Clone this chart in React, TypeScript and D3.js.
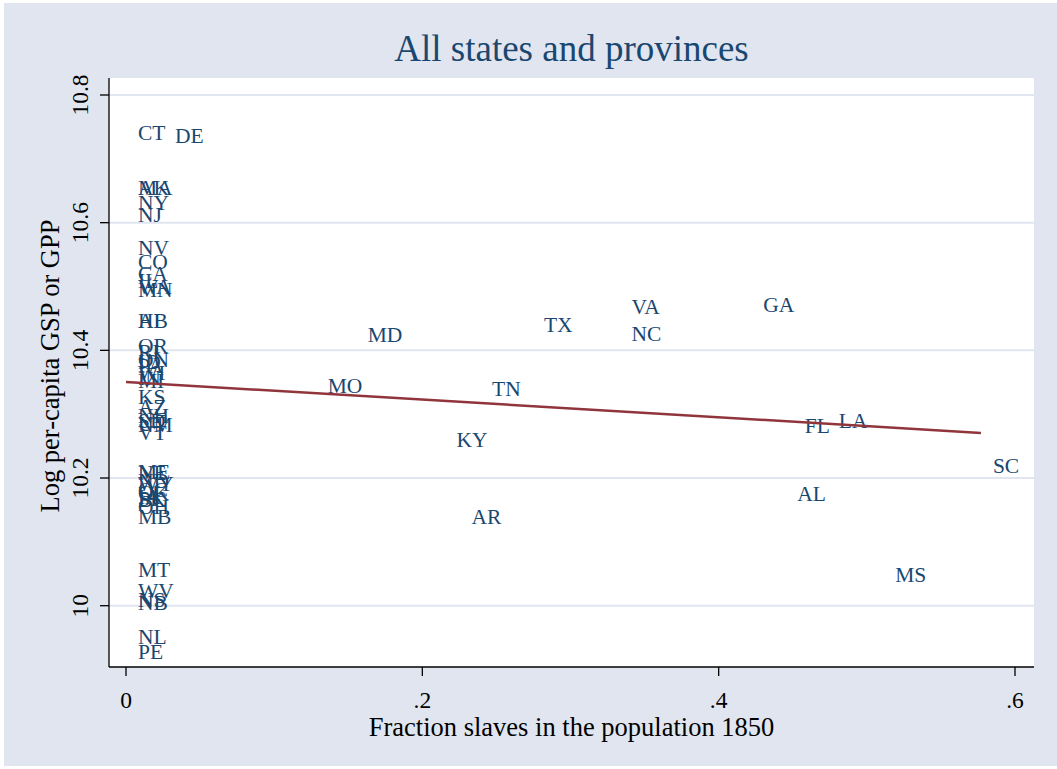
import React from "react";
import * as d3 from "d3";

const stateLabels = [
  "CT","DE","MA","AK","NY","NJ","NV","CO","CA","IL","WA","MN","HI","AB","OR","RI","ON","ID","PA","WI","IN","MI","KS","AZ","NH","SD","UT","NM","VT","ME","NE","ND","WY","QC","OK","IA","SK","BC","OH","MB","MT","WV","NS","NB","NL","PE",
  "MD","MO","TX","VA","NC","GA","TN","KY","AR","FL","LA","SC","AL","MS"
];
const slaveFraction = [
  0,0.025,0,0,0,0,0,0,0,0,0,0,0,0,0,0,0,0,0,0,0,0,0,0,0,0,0,0,0,0,0,0,0,0,0,0,0,0,0,0,0,0,0,0,0,0,
  0.155,0.128,0.274,0.333,0.333,0.422,0.239,0.215,0.225,0.45,0.473,0.577,0.445,0.511
];
const logGsp = [
  10.741,10.735,10.655,10.655,10.631,10.612,10.561,10.539,10.52,10.509,10.5,10.495,10.446,10.446,10.407,10.398,10.385,10.382,10.376,10.365,10.357,10.352,10.327,10.311,10.297,10.29,10.285,10.283,10.271,10.21,10.208,10.195,10.191,10.181,10.177,10.17,10.167,10.166,10.155,10.139,10.056,10.023,10.009,10.004,9.951,9.927,
  10.424,10.344,10.44,10.468,10.426,10.471,10.34,10.26,10.139,10.282,10.29,10.219,10.175,10.048
];
const xTicks = [0, 0.2, 0.4, 0.6];
const xTickLabels = ["0", ".2", ".4", ".6"];
const yTicks = [10, 10.2, 10.4, 10.6, 10.8];
const yTickLabels = ["10", "10.2", "10.4", "10.6", "10.8"];
const fitIntercept = 10.3506;
const fitSlope = -0.1385;

const W = 1057, H = 769;
const plot = { left: 109, right: 1034, top: 78, bottom: 667 };
const navy = "#1a476f";
const font = "'Liberation Serif', 'Times New Roman', serif";

export default function App() {
  const x = d3.scaleLinear().domain([0, 0.6]).range([126, 1015]);
  const y = d3.scaleLinear().domain([10, 10.8]).range([605.7, 95]);
  const xMax = d3.max(slaveFraction) as number;
  const fitLine = d3.line<number>().x((d) => x(d)).y((d) => y(fitIntercept + fitSlope * d));
  const cx = (plot.left + plot.right) / 2;
  return (
    <svg width={W} height={H} style={{ position: "absolute", left: 0, top: 0 }} fontFamily={font}>
      <rect x={0} y={0} width={W} height={H} fill="#ffffff" />
      <rect x={4} y={3} width={W - 4} height={H - 6} fill="#e0e5ef" />
      <rect x={plot.left} y={plot.top} width={plot.right - plot.left} height={plot.bottom - plot.top} fill="#ffffff" />
      {yTicks.map((t) => (
        <line key={"g" + t} x1={plot.left} x2={plot.right} y1={y(t)} y2={y(t)} stroke="#e0e5ef" strokeWidth={2} />
      ))}
      <line x1={plot.left} x2={plot.left} y1={plot.top} y2={plot.bottom} stroke="#000" strokeWidth={1.3} />
      <line x1={plot.left} x2={plot.right} y1={plot.bottom} y2={plot.bottom} stroke="#000" strokeWidth={1.3} />
      {yTicks.map((t, i) => (
        <g key={"y" + t}>
          <line x1={plot.left - 9} x2={plot.left} y1={y(t)} y2={y(t)} stroke="#000" strokeWidth={1.3} />
          <text
            transform={`translate(${plot.left - 21},${y(t)}) rotate(-90)`}
            textAnchor="middle"
            fontSize={23.5}
            fill="#000"
          >
            {yTickLabels[i]}
          </text>
        </g>
      ))}
      {xTicks.map((t, i) => (
        <g key={"x" + t}>
          <line x1={x(t)} x2={x(t)} y1={plot.bottom} y2={plot.bottom + 9} stroke="#000" strokeWidth={1.3} />
          <text x={x(t)} y={708} textAnchor="middle" fontSize={23.5} fill="#000">
            {xTickLabels[i]}
          </text>
        </g>
      ))}
      <text x={cx} y={61} textAnchor="middle" fontSize={37} fill={navy}>
        All states and provinces
      </text>
      <text x={cx} y={736} textAnchor="middle" fontSize={26.5} fill="#000">
        Fraction slaves in the population 1850
      </text>
      <text transform={`translate(59,366) rotate(-90)`} textAnchor="middle" fontSize={26.5} fill="#000">
        Log per-capita GSP or GPP
      </text>
      {stateLabels.map((s, i) => (
        <text
          key={s}
          x={x(slaveFraction[i]) + 12}
          y={y(logGsp[i])}
          dominantBaseline="central"
          fontSize={21.5}
          fill={navy}
        >
          {s}
        </text>
      ))}
      <path d={fitLine([0, xMax]) || ""} fill="none" stroke="#90353b" strokeWidth={2.5} />
    </svg>
  );
}
